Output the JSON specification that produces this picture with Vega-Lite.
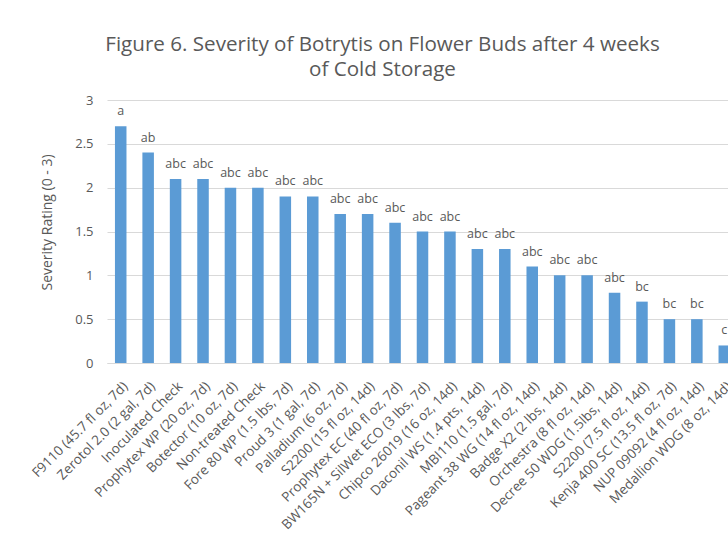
{
  "$schema": "https://vega.github.io/schema/vega-lite/v6.json",
  "width": 631,
  "height": 263,
  "autosize": {"type": "none"},
  "padding": {"left": 107, "top": 100, "right": -10, "bottom": 175},
  "background": "white",
  "config": {"font": "Open Sans", "view": {"stroke": null}},
  "title": {
    "text": ["Figure 6. Severity of Botrytis on Flower Buds after 4 weeks", "of Cold Storage"],
    "fontSize": 20.6,
    "font": "Open Sans",
    "fontWeight": "normal",
    "color": "#595959",
    "anchor": "middle",
    "dx": -40,
    "dy": 25,
    "lineHeight": 25,
    "baseline": "alphabetic",
    "offset": 22
  },
  "data": {
    "values": [
      {"treatment": "F9110 (45.7 fl oz, 7d)", "severity": 2.7, "group": "a"},
      {"treatment": "Zerotol 2.0 (2 gal, 7d)", "severity": 2.4, "group": "ab"},
      {"treatment": "Inoculated Check", "severity": 2.1, "group": "abc"},
      {"treatment": "Prophytex WP (20 oz, 7d)", "severity": 2.1, "group": "abc"},
      {"treatment": "Botector (10 oz, 7d)", "severity": 2.0, "group": "abc"},
      {"treatment": "Non-treated Check", "severity": 2.0, "group": "abc"},
      {"treatment": "Fore 80 WP (1.5 lbs, 7d)", "severity": 1.9, "group": "abc"},
      {"treatment": "Proud 3 (1 gal, 7d)", "severity": 1.9, "group": "abc"},
      {"treatment": "Palladium (6 oz, 7d)", "severity": 1.7, "group": "abc"},
      {"treatment": "S2200 (15 fl oz, 14d)", "severity": 1.7, "group": "abc"},
      {"treatment": "Prophytex EC (40 fl oz, 7d)", "severity": 1.6, "group": "abc"},
      {"treatment": "BW165N + SilWet ECO (3 lbs, 7d)", "severity": 1.5, "group": "abc"},
      {"treatment": "Chipco 26019 (16 oz, 14d)", "severity": 1.5, "group": "abc"},
      {"treatment": "Daconil WS (1.4 pts, 14d)", "severity": 1.3, "group": "abc"},
      {"treatment": "MBI110 (1.5 gal, 7d)", "severity": 1.3, "group": "abc"},
      {"treatment": "Pageant 38 WG (14 fl oz, 14d)", "severity": 1.1, "group": "abc"},
      {"treatment": "Badge X2 (2 lbs, 14d)", "severity": 1.0, "group": "abc"},
      {"treatment": "Orchestra (8 fl oz, 14d)", "severity": 1.0, "group": "abc"},
      {"treatment": "Decree 50 WDG (1.5lbs, 14d)", "severity": 0.8, "group": "abc"},
      {"treatment": "S2200 (7.5 fl oz, 14d)", "severity": 0.7, "group": "bc"},
      {"treatment": "Kenja 400 SC (13.5 fl oz, 7d)", "severity": 0.5, "group": "bc"},
      {"treatment": "NUP 09092 (4 fl oz, 14d)", "severity": 0.5, "group": "bc"},
      {"treatment": "Medallion WDG (8 oz, 14d)", "severity": 0.2, "group": "c"}
    ]
  },
  "encoding": {
    "x": {
      "field": "treatment",
      "type": "nominal",
      "sort": null,
      "scale": {"paddingInner": 0.58, "paddingOuter": 0.29},
      "axis": {
        "title": null,
        "labelAngle": -45,
        "labelAlign": "right",
        "labelBaseline": "top",
        "labelFontSize": 13.5,
        "labelColor": "#595959",
        "labelPadding": 16,
        "labelDx": 2,
        "labelLimit": 300,
        "ticks": false,
        "domainColor": "#d9d9d9"
      }
    },
    "y": {
      "field": "severity",
      "type": "quantitative",
      "scale": {"domain": [0, 3]},
      "axis": {
        "values": [0, 0.5, 1, 1.5, 2, 2.5, 3],
        "format": "~g",
        "title": "Severity Rating (0 - 3)",
        "titleFontSize": 14,
        "titleFontWeight": "normal",
        "titleColor": "#595959",
        "titlePadding": 20,
        "titleY": 122,
        "labelFontSize": 13,
        "labelColor": "#595959",
        "labelPadding": 14,
        "ticks": false,
        "domain": false,
        "gridColor": "#d9d9d9"
      }
    }
  },
  "layer": [
    {"mark": {"type": "bar", "color": "#5b9bd5"}},
    {
      "mark": {"type": "text", "baseline": "alphabetic", "dy": -11, "fontSize": 12.5, "color": "#595959"},
      "encoding": {"text": {"field": "group"}}
    }
  ]
}
